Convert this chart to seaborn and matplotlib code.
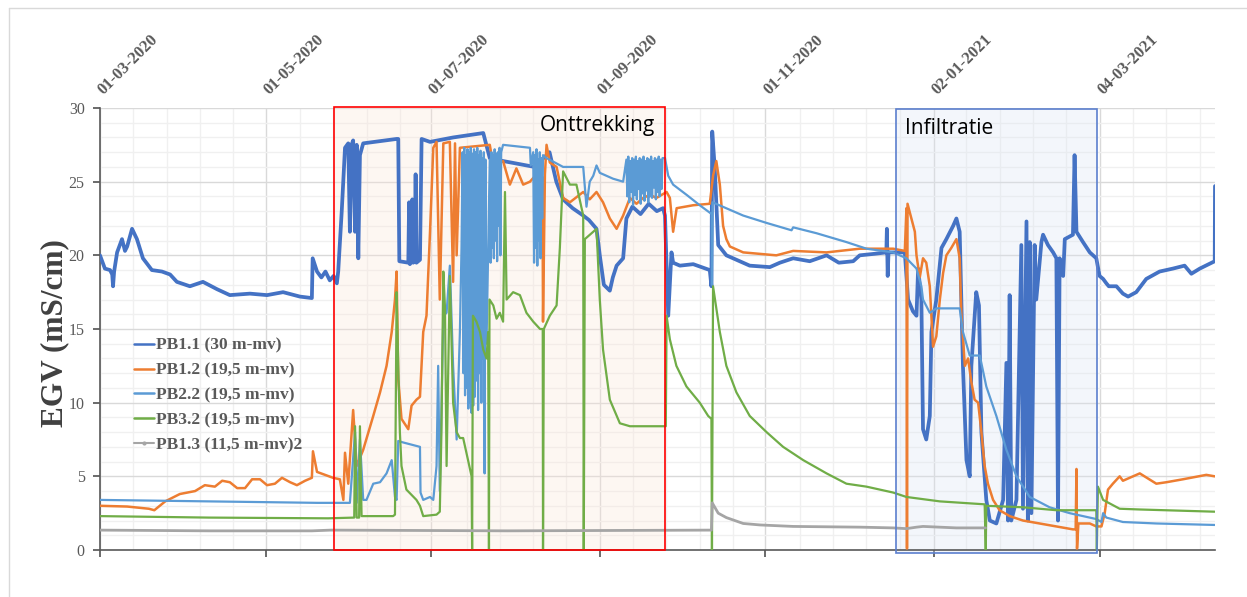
import pandas as pd
import matplotlib.pyplot as plt
from matplotlib.lines import Line2D
from matplotlib.patches import Rectangle
from matplotlib.ticker import FixedLocator, MultipleLocator
import matplotlib.dates as mdates
import matplotlib.transforms as mtransforms
import seaborn as sns

start = pd.Timestamp("2020-03-01")

# meetreeksen: dag (sinds 01-03-2020) en EGV (mS/cm)
pb11_day = [0, 1.8, 3.7, 4.5, 4.8, 5.2, 6.3, 8.1, 9.2, 10.0, 11.8, 13.6, 15.8, 19.1, 22.8, 25.8, 28.3,
            33.1, 37.9, 43.1, 47.8, 55.2, 61.5, 67.4, 73.6, 78.0,
            78.3, 79.9, 81.5, 83.0, 84.6, 86.0, 87.2, 87.7, 89.0, 90.2, 91.4, 92.0, 92.6, 93.2, 93.9,
            94.5, 95.1, 95.7, 96.9, 109.2, 109.8, 110.2, 113.5, 113.8, 114.1, 114.7, 115.0, 115.3,
            115.9, 116.2, 116.5, 117.8, 118.4, 121.5, 130.0, 141.1, 143.5, 148.4, 160.0, 165.5, 168.0,
            170.5, 174.0, 177.9, 180.0, 182.8, 184.0, 185.5, 187.7, 188.8, 190.2, 192.6, 193.8, 196.0,
            199.0, 202.0, 205.0, 207.3, 208.0, 209.2, 210.4,
            211.0, 213.5, 218.4, 224.5, 225.1, 225.4, 226.3, 227.6, 230.6, 239.2, 246.6, 250.3, 255.2,
            261.3, 267.5, 272.0, 277.3, 279.7, 285.0, 289.5, 289.7, 290.0, 290.3, 296.3,
            297.5, 299.3, 300.6, 301.2, 302.4, 303.0, 304.2, 305.5, 306.1, 307.9, 309.8, 311.6, 314.1,
            315.3, 316.5, 317.7, 319.0, 320.2, 320.8, 322.6, 323.6, 324.5, 326.3, 327.6, 330.0, 332.5,
            333.7, 334.3, 334.9, 335.5, 337.4, 339.2, 339.8, 341.1, 341.6, 342.3, 342.9, 344.1, 344.7,
            346.6, 347.2, 349.0, 350.9, 352.1, 352.7, 353.3, 354.6, 355.2, 358.2, 358.8, 359.5, 361.9,
            364.4, 366.8, 368.0,
            369.3, 370.5, 371.4, 374.2, 376.6, 378.5, 381.5, 385.2, 390.1, 395.0, 399.3, 401.8, 404.9,
            410.4, 410.5]
pb11_egv = [20.0, 19.1, 19.0, 18.7, 17.9, 18.9, 20.2, 21.1, 20.3, 20.6, 21.8, 21.1, 19.8, 19.0, 18.9,
            18.7, 18.2, 17.9, 18.2, 17.7, 17.3, 17.4, 17.3, 17.5, 17.2, 17.1,
            19.8, 18.9, 18.5, 18.9, 18.3, 18.6, 18.1, 18.9, 23.0, 27.3, 27.6, 21.6, 27.5, 27.8, 21.6,
            27.5, 19.8, 26.8, 27.6, 27.9, 27.9, 19.6, 19.5, 23.6, 19.4, 19.6, 23.8, 19.5,
            19.6, 25.5, 19.5, 19.7, 27.9, 27.7, 28.0, 28.3, 26.6, 26.4, 26.0, 27.0, 25.0,
            23.8, 23.2, 22.7, 22.4, 21.8, 20.0, 18.0, 17.6, 18.5, 19.3, 19.8, 22.5, 23.3,
            22.8, 23.5, 23.0, 23.2, 22.7, 15.9, 20.2,
            19.5, 19.3, 19.4, 19.0, 17.9, 28.4, 26.0, 20.7, 20.0, 19.3, 19.2, 19.5, 19.8,
            19.6, 20.0, 19.5, 19.6, 20.0, 20.1, 20.2, 21.8, 18.6, 20.2, 20.2,
            17.0, 16.2, 15.9, 19.1, 17.0, 8.2, 7.5, 9.1, 14.8, 17.0, 20.5, 21.1, 22.0,
            22.5, 21.6, 12.5, 6.1, 5.0, 12.5, 17.5, 16.6, 8.0, 3.4, 2.0, 1.8, 3.4,
            12.7, 2.0, 17.3, 2.0, 3.4, 20.7, 2.8, 22.3, 2.0, 20.9, 2.5, 20.7, 17.0,
            20.9, 21.4, 20.7, 20.2, 19.8, 2.0, 19.8, 18.6, 21.1, 21.4, 26.8, 21.6, 20.9,
            20.2, 19.8, 18.6,
            18.4, 18.1, 17.9, 17.9, 17.4, 17.2, 17.5, 18.4, 18.9, 19.1, 19.3, 18.75, 19.1,
            19.6, 24.7]

pb12_day = [0, 10, 18, 20, 24, 29.4, 35, 38.6, 42.3, 45, 47.8, 50.5, 53.4, 56, 58.9, 61.5, 64.4,
            67, 70, 72.5, 75.5, 78.0, 78.4, 79.9, 85.8, 88.3, 89.6, 90.2, 91.4, 93.2, 94.5, 96.9,
            100.6, 103.1, 105.5, 107.4, 108.6, 109.2, 109.8, 111.0, 113.5, 114.7, 116.5, 117.8, 119.0,
            120.2, 121.5, 122.7, 123.9, 125.1, 126.4, 128.8, 130.0, 130.7, 131.3, 132.5, 143.5, 144.8,
            148.4, 150.9, 153.3, 155.8, 158.3, 160.7, 162.9, 163.1, 163.8, 164.4, 165.6, 168.1, 170.5,
            173.0, 177.9, 180.3, 182.8, 185.2, 187.7, 190.2, 192.6, 195.1, 197.5, 200.0, 202.4, 204.9,
            208.6, 209.8, 211.0, 212.3, 218.4, 224.5, 225.7, 226.9, 228.2, 229.4, 230.6, 231.9, 236.8,
            249.0, 255.2, 267.5, 279.7, 292.0, 296.3, 296.9, 297.1, 297.3, 300.0, 300.6, 301.8, 303.0,
            304.2, 305.5, 306.7, 307.9, 309.2, 310.4, 311.6, 313.4, 315.3, 316.5, 317.1, 318.4, 319.6,
            320.8, 322.0, 323.3, 324.5, 325.7, 326.9, 328.8, 331.2, 334.9, 339.8, 346.0, 352.1, 358.2,
            359.2, 359.5, 359.7, 360.2, 364.4, 366.8, 368.7, 369.9, 371.1, 372.9, 375.4, 376.6, 382.8,
            388.9, 392.6, 398.7, 407.3, 410.4]
pb12_egv = [3.0, 2.95, 2.8, 2.7, 3.3, 3.8, 4.0, 4.4, 4.3, 4.7, 4.6, 4.2, 4.2, 4.8, 4.8, 4.4, 4.5,
            4.9, 4.6, 4.4, 4.7, 4.9, 6.7, 5.3, 4.9, 4.8, 3.4, 6.6, 4.5, 9.5, 5.7, 6.8, 9.1, 10.7, 12.5,
            14.8, 17.0, 18.9, 11.6, 8.9, 8.2, 9.8, 10.2, 10.4, 14.8, 15.9, 21.6, 27.3, 27.7, 17.0, 27.6,
            27.7, 18.2, 27.6, 20.0, 27.3, 27.5, 26.1, 26.4, 24.8, 25.9, 24.8, 25.0, 25.5, 25.3, 15.5,
            25.5, 27.5, 26.3, 26.0, 23.9, 23.6, 24.3, 23.8, 24.3, 23.6, 22.5, 21.8, 22.7, 23.9, 23.5,
            23.9, 24.1, 23.9, 24.3, 23.9, 21.6, 23.2, 23.4, 23.5, 25.4, 26.4, 24.8, 22.0, 21.1, 20.6,
            20.2, 20.0, 20.3, 20.2, 20.45, 20.45, 20.3, 23.2, 0.1, 23.5, 21.6, 20.0, 18.5, 19.8, 19.5,
            17.9, 13.8, 14.5, 17.0, 18.8, 20.0, 20.5, 21.1, 19.8, 16.1, 12.5, 13.0, 11.4, 10.2, 10.0,
            8.0, 5.7, 4.5, 3.4, 2.7, 2.3, 2.0, 1.8, 1.6, 1.4, 1.4, 5.5, 0.1, 1.8, 1.8, 1.6, 1.6, 2.5,
            4.1, 4.5, 5.0, 4.7, 5.2, 4.5, 4.6, 4.8, 5.1, 5.0]

pb22_day = [0, 40, 80, 92.0, 93.9, 94.5, 95.7, 96.9, 98.1, 100.6, 103.1, 105.5, 107.4, 108.6, 109.2,
            109.8, 111.6, 117.8, 118.0, 119.0, 121.5, 122.7, 123.9, 124.5, 125.1, 126.4, 127.6, 128.8,
            130.0, 131.3, 132.5, 133.1,
            133.5, 133.8, 134.1, 134.4, 134.7, 135.0, 135.3, 135.6, 135.9, 136.2, 136.5, 136.8, 137.1,
            137.4, 137.7, 138.0, 138.3, 138.6, 138.9, 139.2, 139.5, 139.8, 140.1, 140.4, 140.7, 141.0,
            141.3, 141.6, 141.9, 142.3,
            143.5, 143.8, 144.1, 144.4, 144.7, 145.0, 145.3, 145.6, 145.9, 146.2, 146.5, 146.8, 147.1,
            147.4, 147.7, 148.4, 158.3, 158.6,
            159.5, 159.8, 160.1, 160.4, 160.7, 161.0, 161.3, 161.6, 161.9, 162.2, 162.5, 162.8, 163.1,
            164.4, 170.5, 177.9, 179.1, 180.3, 181.6, 182.8, 184.0, 188.9, 192.6,
            193.8, 194.15, 194.5, 194.85, 195.2, 195.55, 195.9, 196.25, 196.6, 196.95, 197.3, 197.65,
            198.0, 198.35, 198.7, 199.05, 199.4, 199.75, 200.1, 200.45, 200.8, 201.15, 201.5, 201.85,
            202.2, 202.55, 202.9, 203.25, 203.6, 203.95, 204.3, 204.65, 205.0, 205.35, 205.7, 206.05,
            206.4, 206.75, 207.1, 207.5,
            208.0, 209.2, 211.0, 216.0, 220.8, 225.2, 225.3, 225.5, 236.8, 245.4, 254.6, 255.2, 263.8,
            274.8, 282.2, 292.0, 296.9, 300.6, 302.4, 303.0, 305.5, 307.9, 316.5, 317.7, 320.2, 323.9,
            326.3, 330.0, 333.7, 337.4, 342.3, 349.6, 357.0, 364.4, 366.8, 368.7, 369.3, 370.5, 376.6,
            388.9, 410.4]
pb22_egv = [3.4, 3.3, 3.2, 3.2, 8.0, 3.2, 7.5, 3.4, 3.4, 4.5, 4.6, 5.2, 6.1, 3.6, 3.4, 7.4, 7.3, 7.0,
            3.9, 3.4, 3.6, 3.4, 5.7, 12.5, 4.0, 15.9, 16.1, 19.3, 12.5, 7.5, 14.8, 20.5,
            27.0, 12.0, 27.3, 10.5, 26.8, 11.0, 27.2, 9.6, 27.0, 10.0, 27.3, 9.3, 26.9, 9.8, 27.2, 10.4,
            27.0, 11.5, 27.3, 9.5, 26.8, 12.0, 27.1, 10.0, 26.6, 13.0, 27.0, 5.2, 26.5, 14.0,
            26.5, 19.5, 27.0, 20.5, 26.8, 19.8, 27.2, 21.0, 26.9, 19.6, 27.0, 22.0, 27.3, 20.0, 27.0,
            27.5, 27.3, 26.1,
            27.0, 19.5, 26.8, 20.5, 27.2, 19.3, 26.5, 21.0, 27.0, 19.8, 26.6, 22.5, 26.8,
            26.6, 26.0, 26.0, 23.3, 25.0, 25.4, 26.1, 25.6, 25.2, 25.0,
            26.5, 24.0, 26.7, 23.6, 26.4, 24.3, 26.6, 23.4, 26.5, 24.1, 26.7, 23.8, 26.4, 24.5, 26.6,
            23.5, 26.5, 24.2, 26.7, 23.7, 26.4, 24.4, 26.6, 23.6, 26.5, 24.0, 26.7, 23.9, 26.4, 24.6,
            26.6, 23.8, 26.5, 24.3, 26.7, 24.0, 26.5, 24.5, 26.6, 26.6,
            26.6, 25.4, 24.8, 24.1, 23.4, 22.8, 18.0, 23.6, 22.7, 22.2, 21.7, 21.9, 21.5, 20.9, 20.45,
            20.2, 19.8, 19.1, 17.9, 17.0, 16.1, 16.4, 16.4, 14.8, 13.2, 13.2, 11.1, 9.1, 6.8, 5.0, 3.6,
            2.9, 2.5, 2.2, 2.1, 1.9, 2.5, 2.2, 1.9, 1.8, 1.7]

pb32_day = [0, 40, 84, 93.6, 93.9, 94.5, 95.4, 95.7, 96.3, 107.9, 108.6, 109.2, 109.8, 110.4, 111.0,
            112.8, 116.5, 117.8, 119.0, 123.9, 125.1, 125.7, 126.4, 127.0, 127.6, 128.8, 130.0, 131.3,
            132.5, 133.7, 134.9, 136.8, 137.0, 137.3, 138.6, 139.9, 141.1, 142.3, 142.9, 143.2, 143.4,
            144.8, 146.0, 147.2, 148.4, 149.1, 149.7, 152.1, 154.6, 157.0, 159.5, 162.0, 163.0, 163.1,
            163.4, 165.6, 168.1, 169.3, 170.5, 173.0, 175.4, 177.9, 178.1, 178.5, 181.6, 182.8, 184.0,
            185.2, 187.7, 191.4, 195.1, 208.3, 208.6, 209.8, 212.2, 215.9, 220.8, 223.9, 225.1, 225.3,
            225.7, 228.2, 230.6, 234.3, 239.2, 245.4, 251.5, 258.9, 267.5, 274.8, 282.2, 292.0, 296.9,
            309.2, 325.7, 326.1, 326.3, 339.8, 352.1, 366.8, 367.0, 367.4, 369.3, 375.4, 382.8, 410.4]
pb32_egv = [2.3, 2.2, 2.15, 2.2, 8.4, 2.2, 2.2, 8.4, 2.3, 2.3, 2.4, 17.5, 12.5, 8.0, 5.7, 4.1, 3.4,
            3.0, 2.3, 2.4, 2.6, 8.0, 18.9, 16.5, 5.7, 18.6, 10.0, 8.0, 7.6, 7.6, 6.6, 5.0, 0.0, 15.9,
            15.5, 14.8, 13.6, 13.0, 14.8, 0.0, 17.0, 16.6, 15.7, 16.1, 15.5, 24.3, 17.0, 17.5, 17.3,
            16.1, 15.5, 15.0, 15.0, 0.0, 15.0, 15.9, 16.6, 20.5, 25.7, 24.8, 24.8, 22.7, 0.0, 21.1,
            21.6, 21.8, 17.0, 13.6, 10.2, 8.6, 8.4, 8.4, 15.9, 14.3, 12.5, 11.1, 10.0, 9.1, 8.9, 0.0,
            17.9, 14.8, 12.5, 10.7, 9.1, 8.0, 7.0, 6.1, 5.2, 4.5, 4.3, 3.9, 3.6, 3.3, 3.1, 0.0, 3.0,
            2.9, 2.7, 2.7, 0.0, 4.3, 3.4, 2.8, 2.75, 2.6]

pb13_day = [0, 40, 78, 85, 150, 225.1, 225.4, 227.6, 230.6, 236.8, 243.0, 255.2, 280.0, 292.0,
            296.9, 300.6, 303.0, 315.3, 326.0]
pb13_egv = [1.35, 1.3, 1.3, 1.35, 1.3, 1.35, 3.2, 2.5, 2.2, 1.8, 1.7, 1.6, 1.55, 1.5, 1.45, 1.55,
            1.6, 1.5, 1.5]

series = [
    ("PB1.1 (30 m-mv)", pb11_day, pb11_egv, "#4472C4", 2.7),
    ("PB1.2 (19,5 m-mv)", pb12_day, pb12_egv, "#ED7D31", 1.8),
    ("PB2.2 (19,5 m-mv)", pb22_day, pb22_egv, "#5B9BD5", 1.6),
    ("PB3.2 (19,5 m-mv)", pb32_day, pb32_egv, "#70AD47", 1.6),
    ("PB1.3 (11,5 m-mv)2", pb13_day, pb13_egv, "#A5A5A5", 2.0),
]

tick_labels = ["01-03-2020", "01-05-2020", "01-07-2020", "01-09-2020",
               "01-11-2020", "02-01-2021", "04-03-2021"]
onttrekking = ("2020-05-26", "2020-09-25")
infiltratie = ("2020-12-19", "2021-03-03")

sns.set_theme(style="white")
plt.rcParams["font.family"] = ["Liberation Serif", "DejaVu Serif"]

fig = plt.figure(figsize=(12.47, 5.97), dpi=100)
ax = fig.add_axes([100 / 1247, 1 - 550 / 597, 1115 / 1247, 442 / 597])

def to_dates(days):
    return start + pd.to_timedelta(days, unit="D")

# achtergrondvlakken
x0, x1 = mdates.date2num(pd.Timestamp(onttrekking[0])), mdates.date2num(pd.Timestamp(onttrekking[1]))
ax.add_patch(Rectangle((x0, 0), x1 - x0, 30.1, facecolor="#FBE5D6", alpha=0.3,
                       edgecolor="none", zorder=1, clip_on=False))
ax.add_patch(Rectangle((x0, 0), x1 - x0, 30.1, facecolor="none", edgecolor="#FF0000",
                       lw=1.2, zorder=6, clip_on=False))
b0, b1 = mdates.date2num(pd.Timestamp(infiltratie[0])), mdates.date2num(pd.Timestamp(infiltratie[1]))
ax.add_patch(Rectangle((b0, -0.2), b1 - b0, 30.15, facecolor="#DAE3F3", alpha=0.3,
                       edgecolor="none", zorder=1, clip_on=False))
ax.add_patch(Rectangle((b0, -0.2), b1 - b0, 30.15, facecolor="none", edgecolor="#5B7FCE",
                       lw=1.2, zorder=6, clip_on=False))

for i, (name, d, v, c, lw) in enumerate(series):
    sns.lineplot(x=to_dates(d), y=v, ax=ax, color=c, lw=lw, sort=False,
                 estimator=None, legend=False, zorder=3 + i * 0.1)

ax.text(start + pd.Timedelta(days=204.5), 28.8, "Onttrekking", family="Open Sans",
        fontsize=15, ha="right", va="center", color="black", zorder=7)
ax.text(start + pd.Timedelta(days=296.3), 28.6, "Infiltratie", family="Open Sans",
        fontsize=15, ha="left", va="center", color="black", zorder=7)

# assen
tick_dates = pd.to_datetime(tick_labels, format="%d-%m-%Y")
ax.set_xlim(start, start + pd.Timedelta(days=410.5))
ax.set_ylim(0, 30)
ax.set_xticks(tick_dates)
ax.set_xticklabels(tick_labels)
tnum = mdates.date2num(tick_dates)
step = (tnum[-1] - tnum[0]) / 6 / 5
minors = [tnum[0] + k * step for k in range(1, 34) if k % 5 != 0]
ax.xaxis.set_minor_locator(FixedLocator(minors))
ax.yaxis.set_major_locator(MultipleLocator(5))
ax.yaxis.set_minor_locator(MultipleLocator(1))

ax.grid(which="major", color="#D9D9D9", lw=1.0, zorder=0)
ax.grid(which="minor", color="#F0F0F0", lw=1.0, zorder=0)
ax.set_axisbelow(True)

for s in ["top", "right"]:
    ax.spines[s].set_visible(False)
ax.spines["left"].set_color("#595959")
ax.spines["bottom"].set_color("#595959")
ax.spines["left"].set_linewidth(1.2)
ax.spines["bottom"].set_linewidth(1.2)

ax.tick_params(axis="y", which="major", left=True, length=5, color="#595959",
               labelsize=11.5, labelcolor="#595959", pad=6)
ax.tick_params(axis="x", which="major", bottom=True, top=False, labelbottom=False,
               labeltop=True, length=5, color="#595959", labelsize=12,
               labelcolor="#595959", pad=2)
ax.tick_params(which="minor", length=0)
shift = mtransforms.ScaledTranslation(-5 / 100, 0, fig.dpi_scale_trans)
for lab in ax.xaxis.get_majorticklabels():
    lab.set_rotation(45)
    lab.set_ha("left")
    lab.set_va("bottom")
    lab.set_fontweight("bold")
    lab.set_transform(lab.get_transform() + shift)

ax.set_xlabel("")
ax.set_ylabel("EGV (mS/cm)", fontsize=22.5, fontweight="bold", color="#404040")
ax.yaxis.set_label_coords(-0.028, 0.49)

handles = []
for name, d, v, c, lw in series:
    if name.startswith("PB1.3"):
        handles.append(Line2D([], [], color=c, lw=1.5, marker="o", markersize=2))
    else:
        handles.append(Line2D([], [], color=c, lw=1.8))
leg = ax.legend(handles, [s[0] for s in series], loc="upper left",
                bbox_to_anchor=(0.023, 0.5), frameon=False, handlelength=1.15,
                handletextpad=0.1, labelspacing=0.5, borderpad=0,
                prop={"family": "Liberation Serif", "weight": "bold", "size": 12.5})
for t in leg.get_texts():
    t.set_color("#595959")

# rand van het grafiekgebied
fig.add_artist(Line2D([9 / 1247, 9 / 1247], [0, 1 - 8 / 597], color="#D9D9D9", lw=1))
fig.add_artist(Line2D([9 / 1247, 1], [1 - 8 / 597, 1 - 8 / 597], color="#D9D9D9", lw=1))

fig.savefig("out.png", dpi=100)
